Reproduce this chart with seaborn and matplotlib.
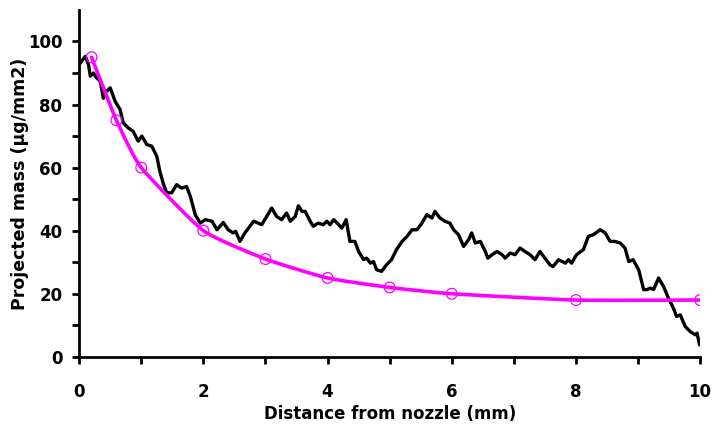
import numpy as np
import pandas as pd
import matplotlib
matplotlib.use("Agg")
import matplotlib.pyplot as plt
import seaborn as sns

# Measured projected mass along the jet axis
measured_x = [0.0, 0.02, 0.1, 0.15, 0.18, 0.23, 0.28, 0.34, 0.39, 0.42, 0.5, 0.58, 0.66, 0.71,
              0.79, 0.87, 0.95, 1.01, 1.09, 1.17, 1.25, 1.3, 1.36, 1.41, 1.49, 1.57, 1.65,
              1.73, 1.79, 1.87, 1.95, 2.03, 2.14, 2.22, 2.32, 2.4, 2.48, 2.52, 2.59, 2.67,
              2.75, 2.81, 2.86, 2.94, 3.02, 3.1, 3.18, 3.26, 3.34, 3.4, 3.48, 3.53, 3.59,
              3.64, 3.72, 3.77, 3.85, 3.93, 3.99, 4.04, 4.1, 4.18, 4.23, 4.3, 4.36, 4.44,
              4.5, 4.58, 4.63, 4.69, 4.74, 4.79, 4.87, 4.95, 5.03, 5.11, 5.2, 5.28, 5.36,
              5.44, 5.52, 5.6, 5.68, 5.73, 5.81, 5.89, 5.97, 6.03, 6.11, 6.19, 6.27, 6.32,
              6.38, 6.46, 6.54, 6.58, 6.65, 6.73, 6.81, 6.86, 6.94, 7.02, 7.1, 7.18, 7.26,
              7.34, 7.42, 7.5, 7.58, 7.63, 7.72, 7.83, 7.88, 7.93, 8.01, 8.12, 8.2, 8.28,
              8.39, 8.47, 8.55, 8.63, 8.71, 8.79, 8.85, 8.92, 9.01, 9.09, 9.14, 9.2, 9.25,
              9.33, 9.41, 9.49, 9.57, 9.62, 9.68, 9.76, 9.84, 9.92, 9.95, 9.99]
measured_y = [93.0, 93.2, 95.3, 92.7, 89.0, 90.0, 88.5, 87.4, 82.0, 83.7, 85.3, 81.0, 78.4, 74.2,
              72.6, 71.5, 68.4, 70.0, 67.3, 66.8, 63.6, 58.8, 54.6, 52.0, 52.0, 54.6, 53.5,
              54.0, 50.9, 45.0, 42.4, 43.5, 43.0, 40.3, 42.6, 40.3, 39.3, 39.8, 36.6, 39.3,
              41.4, 43.0, 42.6, 41.9, 44.5, 47.2, 44.5, 43.5, 45.6, 43.0, 44.5, 47.9, 46.1,
              46.1, 43.0, 41.4, 42.4, 41.9, 43.0, 41.9, 43.5, 41.9, 40.8, 43.5, 36.6, 36.6,
              33.4, 30.8, 31.3, 29.7, 30.2, 27.6, 27.1, 29.2, 30.8, 34.0, 36.6, 38.2, 40.3,
              40.3, 42.4, 45.1, 44.0, 46.1, 44.0, 43.0, 42.4, 40.3, 38.7, 35.0, 37.1, 39.3,
              36.1, 36.6, 33.4, 31.3, 32.4, 33.4, 32.4, 31.3, 32.9, 32.4, 34.5, 33.4, 32.4,
              30.8, 33.4, 31.3, 29.2, 28.6, 30.8, 29.7, 30.8, 29.7, 32.4, 34.0, 38.2, 38.7,
              40.3, 39.3, 36.6, 36.6, 36.1, 34.5, 30.2, 30.8, 27.6, 21.3, 21.3, 21.8, 21.3,
              25.0, 22.3, 18.6, 15.4, 12.8, 13.3, 9.6, 8.0, 7.0, 7.5, 3.8]

# Model prediction
model_x = [0.2, 0.6, 1, 2, 3, 4, 5, 6, 8, 10]
model_y = [95, 75, 60, 40, 31, 25, 22, 20, 18, 18]

x_ticks = list(range(0, 11))
x_labels = ["0", "", "2", "", "4", "", "6", "", "8", "", "10"]
y_ticks = list(range(0, 101, 10))
y_labels = ["0", "", "20", "", "40", "", "60", "", "80", "", "100"]


def smooth_curve(xs, ys, n=30):
    """Cardinal-spline smoothing of a polyline through its vertices."""
    xs = np.asarray(xs, float)
    ys = np.asarray(ys, float)
    px = np.concatenate([[2 * xs[0] - xs[1]], xs, [2 * xs[-1] - xs[-2]]])
    py = np.concatenate([[2 * ys[0] - ys[1]], ys, [2 * ys[-1] - ys[-2]]])
    outx, outy = [], []
    t = np.linspace(0, 1, n)
    for i in range(1, len(px) - 2):
        p0, p1, p2, p3 = (np.array([px[j], py[j]]) for j in range(i - 1, i + 3))
        m1 = (p2 - p0) / 2 * 0.5
        m2 = (p3 - p1) / 2 * 0.5
        h00 = 2 * t**3 - 3 * t**2 + 1
        h10 = t**3 - 2 * t**2 + t
        h01 = -2 * t**3 + 3 * t**2
        h11 = t**3 - t**2
        pts = (np.outer(h00, p1) + np.outer(h10, m1) + np.outer(h01, p2) + np.outer(h11, m2))
        outx.extend(pts[:, 0])
        outy.extend(pts[:, 1])
    return np.array(outx), np.array(outy)


sns.set_theme(style="ticks")
plt.rcParams["font.family"] = ["DejaVu Sans"]
plt.rcParams["text.color"] = "black"
plt.rcParams["axes.labelcolor"] = "black"
plt.rcParams["xtick.color"] = "black"
plt.rcParams["ytick.color"] = "black"

measured = pd.DataFrame({"x": measured_x, "y": measured_y})
model = pd.DataFrame({"x": model_x, "y": model_y})
sx, sy = smooth_curve(model_x, model_y)
model_line = pd.DataFrame({"x": sx, "y": sy})

fig = plt.figure(figsize=(7.13, 4.32), dpi=100)
ax = fig.add_axes([0.111, 0.174, 0.871, 0.803])

sns.lineplot(data=measured, x="x", y="y", ax=ax, color="black", linewidth=2.4,
             sort=False, estimator=None)
sns.lineplot(data=model_line, x="x", y="y", ax=ax, color="#ff00ff", linewidth=2.6,
             sort=False, estimator=None)
sns.scatterplot(data=model, x="x", y="y", ax=ax, marker="o", s=60,
                facecolor="none", edgecolor="#ff00ff", linewidth=0.9, zorder=5)

ax.set_xlim(0, 10)
ax.set_ylim(0, 110)
ax.set_xticks(x_ticks)
ax.set_xticklabels(x_labels)
ax.set_yticks(y_ticks)
ax.set_yticklabels(y_labels)
for lab in ax.get_xticklabels() + ax.get_yticklabels():
    lab.set_fontweight("bold")
    lab.set_fontsize(12)
    lab.set_color("black")
ax.tick_params(axis="both", direction="out", length=5, width=2, colors="black")
ax.tick_params(axis="x", pad=14)
ax.tick_params(axis="y", pad=7)

ax.set_xlabel("Distance from nozzle (mm)", fontsize=12, fontweight="bold",
              color="black", labelpad=3)
ax.set_ylabel("Projected mass (μg/mm2)", fontsize=12.5, fontweight="bold",
              color="black", labelpad=-1)

for side in ("top", "right"):
    ax.spines[side].set_visible(False)
for side in ("left", "bottom"):
    ax.spines[side].set_linewidth(2)
    ax.spines[side].set_color("black")
ax.spines["left"].set_bounds(0, 110)
ax.grid(False)

fig.savefig("out.png", dpi=100)
